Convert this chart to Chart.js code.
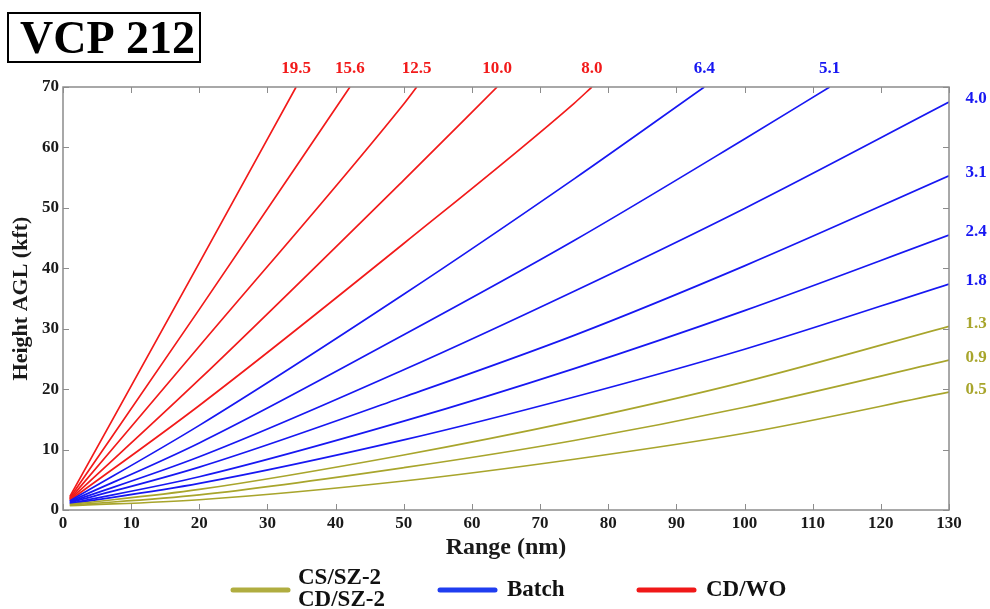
<!DOCTYPE html>
<html>
<head>
<meta charset="utf-8">
<script src="https://cdn.jsdelivr.net/npm/chart.js@4.4.1/dist/chart.umd.min.js"></script>
<style>
  html, body { margin: 0; padding: 0; background: #fff; }
  #wrap { width: 990px; height: 609px; position: relative; }
</style>
</head>
<body>
<div id="wrap"><canvas id="chart"></canvas></div>
<script>
"use strict";

// elevation angles (deg) of VCP 212
var elevations = ['0.5', '0.9', '1.3', '1.8', '2.4', '3.1', '4.0', '5.1', '6.4', '8.0', '10.0', '12.5', '15.6', '19.5'];
// waveform group of each cut
var groups = ['cs', 'cs', 'cs', 'batch', 'batch', 'batch', 'batch', 'batch', 'batch', 'cdwo', 'cdwo', 'cdwo', 'cdwo', 'cdwo'];
// ranges (nm) where heights were read
var rangeGrid = [1, 20, 50, 75, 100, 130];
// beam height (kft) at each range, null once past the top
var heightKft = [
    [0.7, 1.7, 4.8, 8.4, 12.7, 19.5],
    [0.8, 2.5, 7.0, 11.5, 17.0, 24.8],
    [0.9, 3.4, 9.1, 14.7, 21.2, 30.4],
    [1.0, 4.4, 11.6, 18.7, 26.6, 37.4],
    [1.1, 5.5, 14.7, 23.4, 33.0, 45.5],
    [1.2, 7.1, 18.7, 28.9, 40.4, 55.3],
    [1.3, 8.8, 23.2, 36.2, 49.9, 67.5],
    [1.4, 11.1, 29.0, 44.6, 61.4, null],
    [1.5, 14.0, 35.7, 54.8, null, null],
    [1.6, 17.3, 44.1, 67.3, null, null],
    [1.7, 21.6, 54.6, null, null, null],
    [1.8, 27.1, 67.2, null, null, null],
    [2.0, 33.2, null, null, null, null],
    [2.2, 40.9, null, null, null, null]
];
// range (nm) where a beam leaves the top of the plot (70 kft)
var exitRange = [null, null, null, null, null, null, null, 112.5, 94.1, 77.6, 63.7, 51.9, 42.1, 34.2];
var xTicks = [0, 10, 20, 30, 40, 50, 60, 70, 80, 90, 100, 110, 120, 130];
var yTicks = [0, 10, 20, 30, 40, 50, 60, 70];

var colors = { cs: '#a8a52c', batch: '#1717f2', cdwo: '#f21a1a' };
var legendColors = { cs: '#b0ad40', batch: '#1f3df0', cdwo: '#f01818' };
var serif = '"Liberation Serif", "Times New Roman", serif';

var datasets = elevations.map(function (el, i) {
    var pts = [];
    rangeGrid.forEach(function (r, j) {
        if (heightKft[i][j] !== null) pts.push({ x: r, y: heightKft[i][j] });
    });
    if (exitRange[i] !== null) pts.push({ x: exitRange[i], y: 70 });
    return {
        label: el,
        data: pts,
        showLine: true,
        borderColor: colors[groups[i]],
        borderWidth: 1.7,
        pointRadius: 0,
        fill: false,
        cubicInterpolationMode: 'monotone'
    };
});

// frame, inward ticks, beam labels, title box and legend
var decor = {
    id: 'decor',
    afterDraw: function (chart) {
        var ctx = chart.ctx, a = chart.chartArea;
        var x = chart.scales.x, y = chart.scales.y;
        ctx.save();
        ctx.strokeStyle = '#8c8c8c';
        ctx.lineWidth = 1.5;
        ctx.strokeRect(a.left, a.top, a.right - a.left, a.bottom - a.top);
        ctx.lineWidth = 1;
        ctx.beginPath();
        xTicks.forEach(function (v) {
            var px = Math.round(x.getPixelForValue(v)) + 0.5;
            ctx.moveTo(px, a.bottom); ctx.lineTo(px, a.bottom - 6);
            ctx.moveTo(px, a.top); ctx.lineTo(px, a.top + 6);
        });
        yTicks.forEach(function (v) {
            var py = Math.round(y.getPixelForValue(v)) + 0.5;
            ctx.moveTo(a.left, py); ctx.lineTo(a.left + 6, py);
            ctx.moveTo(a.right, py); ctx.lineTo(a.right - 6, py);
        });
        ctx.stroke();

        // elevation labels
        ctx.font = 'bold 17px ' + serif;
        ctx.textBaseline = 'middle';
        ctx.textAlign = 'center';
        elevations.forEach(function (el, i) {
            ctx.fillStyle = colors[groups[i]];
            if (exitRange[i] !== null) {
                ctx.fillText(el, x.getPixelForValue(exitRange[i]), a.top - 18);
            } else {
                ctx.fillText(el, a.right + 27, y.getPixelForValue(heightKft[i][5]) - 3);
            }
        });

        // title box
        ctx.strokeStyle = '#000';
        ctx.lineWidth = 2;
        ctx.strokeRect(8, 13, 192, 49);
        ctx.fillStyle = '#000';
        ctx.font = 'bold 46px ' + serif;
        ctx.textAlign = 'left';
        ctx.textBaseline = 'alphabetic';
        ctx.fillText('VCP 212', 20, 53);

        // legend
        ctx.lineWidth = 5;
        ctx.lineCap = 'round';
        var items = [
            { key: 'cs', x0: 233, lines: ['CS/SZ-2', 'CD/SZ-2'] },
            { key: 'batch', x0: 440, lines: ['Batch'] },
            { key: 'cdwo', x0: 639, lines: ['CD/WO'] }
        ];
        ctx.font = 'bold 23px ' + serif;
        ctx.textBaseline = 'middle';
        items.forEach(function (it) {
            ctx.strokeStyle = legendColors[it.key];
            ctx.beginPath();
            ctx.moveTo(it.x0, 590); ctx.lineTo(it.x0 + 55, 590);
            ctx.stroke();
            ctx.fillStyle = '#111';
            if (it.lines.length === 2) {
                ctx.fillText(it.lines[0], it.x0 + 65, 578);
                ctx.fillText(it.lines[1], it.x0 + 65, 600);
            } else {
                ctx.fillText(it.lines[0], it.x0 + 67, 590);
            }
        });
        ctx.restore();
    }
};

new Chart(document.getElementById('chart'), {
    type: 'scatter',
    data: { datasets: datasets },
    plugins: [decor],
    options: {
        responsive: true,
        maintainAspectRatio: false,
        animation: false,
        layout: { padding: { top: 87, right: 41, bottom: 39, left: 0 } },
        plugins: { legend: { display: false }, tooltip: { enabled: false } },
        scales: {
            x: {
                type: 'linear', min: 0, max: 130,
                afterFit: function (s) { s.height = 60; },
                afterBuildTicks: function (s) { s.ticks = xTicks.map(function (v) { return { value: v }; }); },
                grid: { display: false, drawTicks: false },
                border: { display: false },
                ticks: { color: '#1a1a1a', padding: 3, font: { family: serif, size: 17, weight: 'bold' }, maxRotation: 0 },
                title: { display: true, text: 'Range (nm)', color: '#1a1a1a', padding: { top: 0, bottom: 8 }, font: { family: serif, size: 24, weight: 'bold' } }
            },
            y: {
                type: 'linear', min: 0, max: 70,
                afterFit: function (s) { s.width = 63; },
                afterBuildTicks: function (s) { s.ticks = yTicks.map(function (v) { return { value: v }; }); },
                grid: { display: false, drawTicks: false },
                border: { display: false },
                ticks: { color: '#1a1a1a', padding: 4, font: { family: serif, size: 17, weight: 'bold' } },
                title: { display: true, text: 'Height AGL (kft)', color: '#1a1a1a', padding: { top: 8, bottom: 0 }, font: { family: serif, size: 22, weight: 'bold' } }
            }
        }
    }
});
</script>
</body>
</html>
